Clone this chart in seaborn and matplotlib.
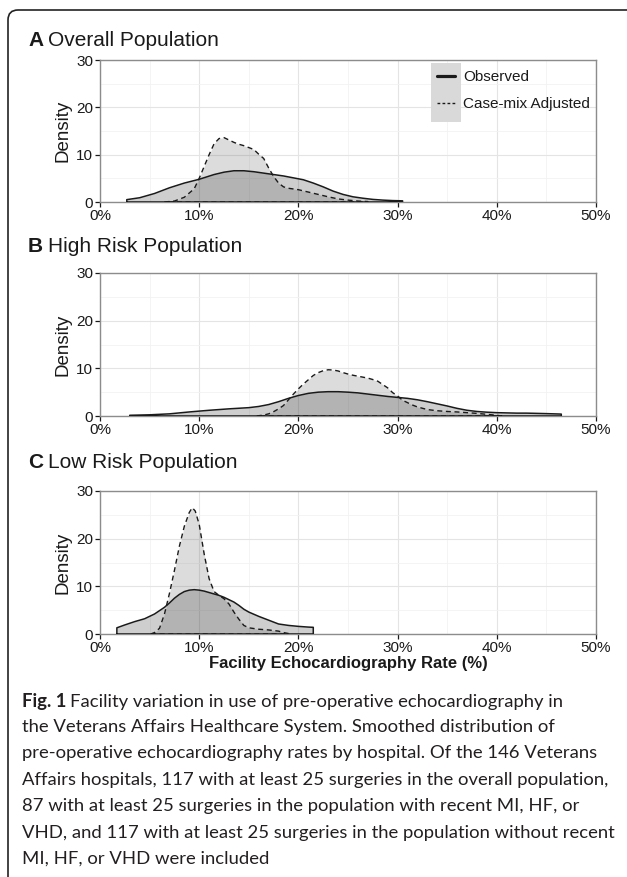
import numpy as np
import matplotlib
matplotlib.use("Agg")
import matplotlib.pyplot as plt
from matplotlib.lines import Line2D
from matplotlib.patches import Rectangle, FancyBboxPatch
from matplotlib.transforms import IdentityTransform
from matplotlib.ticker import MultipleLocator, FuncFormatter
import seaborn as sns

# Smoothed facility rate densities (rate in %, density)
# A: overall population
obs_a_x = [2.7, 4.0, 5.5, 7.0, 8.5, 10.0, 11.5, 12.5, 13.5, 14.5, 15.5, 16.5, 17.5,
           18.5, 19.5, 20.5, 21.5, 22.5, 23.5, 24.5, 25.5, 26.5, 27.5, 28.5, 29.5, 30.5]
obs_a_y = [0.5, 0.9, 1.8, 3.0, 4.0, 4.8, 5.8, 6.3, 6.6, 6.6, 6.4, 6.1, 5.8,
           5.5, 5.1, 4.7, 4.0, 3.2, 2.3, 1.6, 1.1, 0.8, 0.55, 0.4, 0.3, 0.25]
adj_a_x = [6.5, 7.5, 8.5, 9.5, 10.0, 10.5, 11.0, 11.5, 12.0, 12.5, 13.0, 13.5, 14.0,
           14.5, 15.0, 15.5, 16.0, 16.5, 17.0, 17.5, 18.0, 18.5, 19.0, 19.5, 20.0,
           21.0, 22.0, 23.0, 24.0, 25.0, 26.0, 27.0]
adj_a_y = [0.0, 0.2, 1.0, 2.8, 5.0, 7.5, 10.0, 12.3, 13.4, 13.6, 13.1, 12.6, 12.2,
           11.9, 11.5, 11.1, 10.1, 9.2, 7.2, 5.4, 4.0, 3.2, 2.9, 2.75, 2.6,
           2.1, 1.6, 1.1, 0.65, 0.4, 0.2, 0.1]

# B: high risk population
obs_b_x = [3, 5, 7, 9, 11, 13, 15, 16, 17, 18, 19, 20, 21, 22, 23, 24, 25, 26, 27, 28,
           29, 30, 31, 32, 33, 34, 35, 36, 37, 38, 39, 40, 41, 42, 43, 44, 45, 46.5]
obs_b_y = [0.15, 0.25, 0.45, 0.85, 1.2, 1.5, 1.75, 2.0, 2.4, 3.0, 3.7, 4.3, 4.75, 5.0,
           5.1, 5.1, 5.0, 4.85, 4.6, 4.35, 4.1, 3.9, 3.7, 3.4, 3.0, 2.55, 2.1, 1.6,
           1.2, 0.95, 0.8, 0.7, 0.65, 0.6, 0.6, 0.55, 0.5, 0.4]
adj_b_x = [15.8, 16.5, 17.0, 17.5, 18.0, 18.5, 19.0, 19.5, 20.0, 20.5, 21.0, 21.5, 22.0,
           22.5, 23.0, 23.5, 24.0, 24.5, 25.0, 25.5, 26.0, 26.5, 27.0, 27.5, 28.0, 28.5,
           29.0, 29.5, 30.0, 30.5, 31.0, 31.5, 32.0, 33.0, 34.0, 35.0, 36.0, 37.0, 38.0,
           39.0, 40.0, 40.5]
adj_b_y = [0.0, 0.2, 0.45, 0.9, 1.5, 2.2, 3.4, 4.6, 5.7, 6.7, 7.6, 8.5, 9.1,
           9.5, 9.7, 9.65, 9.45, 9.1, 8.8, 8.55, 8.35, 8.15, 7.95, 7.65, 7.3, 6.6,
           5.9, 4.9, 4.2, 3.3, 2.8, 2.3, 1.9, 1.35, 1.1, 0.95, 0.85, 0.7, 0.55,
           0.35, 0.15, 0.0]

# C: low risk population
obs_c_x = [1.7, 2.5, 3.5, 4.5, 5.5, 6.5, 7.0, 7.5, 8.0, 8.5, 9.0, 9.5, 10.0, 10.5, 11.0,
           11.5, 12.0, 12.5, 13.0, 13.5, 14.0, 14.5, 15.0, 16.0, 17.0, 18.0, 19.0,
           20.0, 21.0, 21.5]
obs_c_y = [1.3, 1.9, 2.6, 3.2, 4.2, 5.6, 6.5, 7.5, 8.3, 8.9, 9.2, 9.3, 9.2, 9.0, 8.7,
           8.4, 8.1, 7.7, 7.2, 6.7, 6.0, 5.2, 4.6, 3.7, 2.9, 2.1, 1.8, 1.6, 1.45, 1.4]
adj_c_x = [5.1, 5.5, 6.0, 6.5, 7.0, 7.5, 8.0, 8.5, 9.0, 9.3, 9.6, 10.0, 10.5, 11.0,
           11.5, 12.0, 12.5, 13.0, 13.5, 14.0, 14.5, 15.0, 16.0, 17.0, 18.0, 18.5, 19.0]
adj_c_y = [0.0, 0.3, 1.2, 4.2, 8.5, 13.3, 18.4, 22.6, 25.5, 26.5, 25.8, 23.0, 16.8, 11.6,
           8.9, 8.1, 7.4, 6.3, 4.6, 3.1, 1.8, 1.3, 1.0, 0.85, 0.6, 0.3, 0.1]

panel_letters = ["A", "B", "C"]
panel_titles = ["Overall Population", "High Risk Population", "Low Risk Population"]
series_labels = ["Observed", "Case-mix Adjusted"]
x_label = "Facility Echocardiography Rate (%)"
caption_lead = "Fig. 1"
caption_lines = [
    "Facility variation in use of pre-operative echocardiography in",
    "the Veterans Affairs Healthcare System. Smoothed distribution of",
    "pre-operative echocardiography rates by hospital. Of the 146 Veterans",
    "Affairs hospitals, 117 with at least 25 surgeries in the overall population,",
    "87 with at least 25 surgeries in the population with recent MI, HF, or",
    "VHD, and 117 with at least 25 surgeries in the population without recent",
    "MI, HF, or VHD were included",
]

curves = [
    (obs_a_x, obs_a_y, adj_a_x, adj_a_y),
    (obs_b_x, obs_b_y, adj_b_x, adj_b_y),
    (obs_c_x, obs_c_y, adj_c_x, adj_c_y),
]

sns.set_theme(style="white")
plt.rcParams["font.family"] = ["Liberation Sans", "DejaVu Sans"]

W, H = 627, 877
fig = plt.figure(figsize=(W / 100, H / 100), dpi=100)
renderer = fig.canvas.get_renderer()

# pixel layout of the three panels: (top, bottom, title y)
layout = [(60, 202, 40), (273, 416, 247), (491, 634, 463)]
left, right = 100, 596

dash = (0, (3.6, 2.6))
ink = "#1a1a1a"


def outline(xs, ys):
    xs = np.asarray(xs, float)
    ys = np.asarray(ys, float)
    return np.r_[xs[0], xs, xs[-1], xs[0]], np.r_[0, ys, 0, 0]


def lead_line(x0, y, lead, rest, size, family, color, gap):
    # bold lead-in followed by regular text on the same line
    t = fig.text(x0 / W, 1 - y / H, lead, fontsize=size, fontweight="bold",
                 family=family, va="center", ha="left", color=color)
    bb = t.get_window_extent(renderer=renderer)
    fig.text((bb.x1 + gap) / W, 1 - y / H, rest, fontsize=size, family=family,
             va="center", ha="left", color=color)


for i, (top, bottom, ty) in enumerate(layout):
    ax = fig.add_axes([left / W, 1 - bottom / H, (right - left) / W, (bottom - top) / H])
    ox, oy, axx, ay = curves[i]

    ax.fill_between(ox, oy, color=(0.2, 0.2, 0.2, 0.24), lw=0, zorder=2)
    ax.fill_between(axx, ay, color=(0.2, 0.2, 0.2, 0.17), lw=0, zorder=2)
    px, py = outline(ox, oy)
    sns.lineplot(x=px, y=py, sort=False, estimator=None, color=ink, lw=1.1, ax=ax, zorder=3)
    px, py = outline(axx, ay)
    sns.lineplot(x=px, y=py, sort=False, estimator=None, color=ink, lw=1.0,
                 linestyle=dash, ax=ax, zorder=3)

    ax.set_xlim(0, 50)
    ax.set_ylim(0, 30)
    ax.xaxis.set_major_locator(MultipleLocator(10))
    ax.xaxis.set_minor_locator(MultipleLocator(5))
    ax.yaxis.set_major_locator(MultipleLocator(10))
    ax.yaxis.set_minor_locator(MultipleLocator(5))
    ax.xaxis.set_major_formatter(FuncFormatter(lambda v, p: f"{v:.0f}%"))
    ax.grid(which="major", color="#e4e4e4", lw=0.8, zorder=0)
    ax.grid(which="minor", color="#f2f2f2", lw=0.6, zorder=0)
    ax.set_axisbelow(True)
    ax.tick_params(which="major", direction="out", length=3.5, width=0.9, color=ink,
                   labelsize=11, labelcolor=ink, pad=1.5, bottom=True, left=True)
    ax.tick_params(which="minor", length=0)
    for s in ax.spines.values():
        s.set_color("#8c8c8c")
        s.set_linewidth(1.0)
    ax.set_ylabel("Density", fontsize=13.5, color=ink, labelpad=3)
    ax.set_xlabel("")

    lead_line(28, ty, panel_letters[i], panel_titles[i], 15,
              ["Liberation Sans", "DejaVu Sans"], ink, 5)

    if i == 0:
        ax.add_patch(Rectangle((0.667, 0.563), 0.061, 0.416, transform=ax.transAxes,
                               facecolor="#d9d9d9", edgecolor="none", zorder=4))
        handles = [Line2D([], [], color=ink, lw=2.3),
                   Line2D([], [], color=ink, lw=1.0, linestyle=(0, (2.0, 1.6)))]
        leg = ax.legend(handles, series_labels, loc="upper left",
                        bbox_to_anchor=(0.679, 0.93), frameon=False, borderpad=0,
                        borderaxespad=0, handlelength=1.2, handletextpad=0.5,
                        labelspacing=0.85, fontsize=11)
        leg.set_zorder(5)
        for t in leg.get_texts():
            t.set_color(ink)
    if i == 2:
        ax.set_xlabel(x_label, fontsize=12, fontweight="bold", color=ink, labelpad=1)

# caption
cap_color = "#231f20"
cap_font = ["Lato", "DejaVu Sans"]
cap_size = 13.3
cap_y = [702, 727, 753, 780, 806, 833, 859]
lead_line(22, cap_y[0], caption_lead, caption_lines[0], cap_size, cap_font, cap_color, 4)
for y, line in zip(cap_y[1:], caption_lines[1:]):
    fig.text(22 / W, 1 - y / H, line, fontsize=cap_size, family=cap_font, va="center",
             ha="left", color=cap_color)

# rounded frame around the figure (open at the bottom and right edge)
frame = FancyBboxPatch((8, -20), 660, 887, boxstyle="round,pad=0,rounding_size=10",
                       transform=IdentityTransform(), fill=False, ec="#222222", lw=1.2)
fig.add_artist(frame)

fig.savefig("out.png", dpi=100)
